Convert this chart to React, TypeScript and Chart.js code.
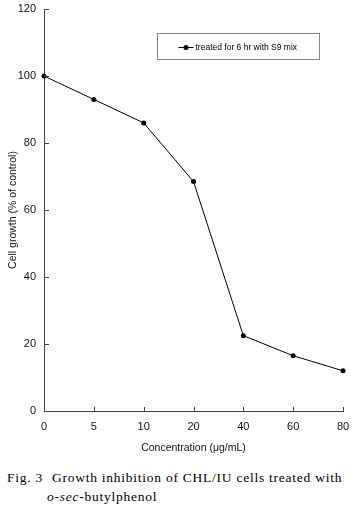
import React, { useEffect, useRef } from "react";
import { Chart, registerables } from "chart.js";

Chart.register(...registerables);

const concentrations = ["0", "5", "10", "20", "40", "60", "80"];
const cellGrowth = [100, 93, 86, 68.5, 22.5, 16.5, 12];
const seriesLabel = "treated for 6 hr with S9 mix";
const yTitle = "Cell growth (% of control)";
const xTitle = "Concentration (\u03bcg/mL)";

const SANS = "'Liberation Sans', Arial, sans-serif";

const inwardTicks = {
  id: "inwardTicks",
  afterDraw(chart: any) {
    const ctx = chart.ctx;
    const xs = chart.scales.x;
    const ys = chart.scales.y;
    const { left, bottom } = chart.chartArea;
    ctx.save();
    ctx.strokeStyle = "#444";
    ctx.lineWidth = 1;
    ctx.beginPath();
    xs.ticks.forEach((_: any, i: number) => {
      if (i === 0) return;
      const px = Math.round(xs.getPixelForTick(i)) + 0.5;
      ctx.moveTo(px, bottom);
      ctx.lineTo(px, bottom - 4);
    });
    ys.ticks.forEach((_: any, i: number) => {
      if (i === 0) return;
      const py = Math.round(ys.getPixelForTick(i)) + 0.5;
      ctx.moveTo(left, py);
      ctx.lineTo(left + 5, py);
    });
    ctx.stroke();
    ctx.restore();
  },
};

const boxLegend = {
  id: "boxLegend",
  afterDraw(chart: any) {
    const ctx = chart.ctx;
    const { right, top } = chart.chartArea;
    const w = 162;
    const h = 26;
    const x0 = Math.round(right - 24 - w) + 0.5;
    const y0 = Math.round(top + 24) + 0.5;
    ctx.save();
    ctx.strokeStyle = "#888";
    ctx.lineWidth = 1;
    ctx.fillStyle = "#fff";
    ctx.fillRect(x0, y0, w, h);
    ctx.strokeRect(x0, y0, w, h);
    const cy = Math.round(y0 + h / 2) + 0.5;
    ctx.strokeStyle = "#000";
    ctx.beginPath();
    ctx.moveTo(x0 + 21, cy);
    ctx.lineTo(x0 + 36, cy);
    ctx.stroke();
    ctx.fillStyle = "#000";
    ctx.beginPath();
    ctx.arc(x0 + 28.5, cy, 2.5, 0, Math.PI * 2);
    ctx.fill();
    ctx.font = `8.5px ${SANS}`;
    ctx.textBaseline = "middle";
    ctx.textAlign = "left";
    ctx.fillStyle = "#000";
    ctx.fillText(chart.data.datasets[0].label, x0 + 38, cy);
    ctx.restore();
  },
};

export default function App() {
  const ref = useRef<HTMLCanvasElement | null>(null);

  useEffect(() => {
    document.body.style.margin = "0";
    const canvas = ref.current;
    if (!canvas) return;
    const H = 458;
    const chart = new Chart(canvas, {
      type: "line",
      data: {
        labels: concentrations,
        datasets: [
          {
            label: seriesLabel,
            data: cellGrowth,
            borderColor: "#000",
            borderWidth: 1,
            pointRadius: 2.5,
            pointBackgroundColor: "#000",
            pointBorderColor: "#000",
            pointBorderWidth: 0,
            tension: 0,
            fill: false,
          },
        ],
      },
      options: {
        animation: false,
        responsive: false,
        maintainAspectRatio: false,
        events: [],
        layout: { padding: { top: 9, right: 9, left: 0, bottom: 4 } },
        plugins: {
          legend: { display: false },
          tooltip: { enabled: false },
          title: { display: false },
        },
        scales: {
          x: {
            type: "category",
            offset: false,
            grid: { display: false, drawTicks: false },
            border: { display: true, color: "#444", width: 1 },
            ticks: {
              font: { family: SANS, size: 11 },
              color: "#111",
              padding: 9,
              maxRotation: 0,
              autoSkip: false,
            },
            title: {
              display: true,
              text: xTitle,
              font: { family: SANS, size: 10.5 },
              color: "#111",
              padding: 0,
            },
            afterFit: (s: any) => {
              s.height = H - 4 - 411;
              s.paddingLeft = 0;
              s.paddingRight = 0;
            },
          },
          y: {
            min: 0,
            max: 120,
            grid: { display: false, drawTicks: false },
            border: { display: true, color: "#444", width: 1 },
            ticks: {
              stepSize: 20,
              font: { family: SANS, size: 11 },
              color: "#111",
              padding: 8,
            },
            title: {
              display: true,
              text: yTitle,
              font: { family: SANS, size: 10.5 },
              color: "#111",
              padding: { top: 7, bottom: 0 },
            },
            afterFit: (s: any) => {
              s.width = 44;
              s.paddingTop = 0;
              s.paddingBottom = 0;
            },
          },
        },
      },
      plugins: [inwardTicks, boxLegend],
    } as any);
    return () => chart.destroy();
  }, []);

  return (
    <div style={{ position: "relative", width: 352, height: 506, background: "#fff", overflow: "hidden" }}>
      <canvas ref={ref} width={352} height={458} style={{ display: "block", width: 352, height: 458 }} />
      <div
        style={{
          position: "absolute",
          top: 468,
          left: 7,
          width: 345,
          fontFamily: "'Liberation Serif', 'DejaVu Serif', serif",
          fontSize: 13.5,
          lineHeight: "19px",
          letterSpacing: "0.75px",
          color: "#000",
          whiteSpace: "nowrap",
        }}
      >
        <div>
          <span style={{ display: "inline-block", width: 45 }}>Fig. 3</span>
          Growth inhibition of CHL/IU cells treated with
        </div>
        <div style={{ paddingLeft: 40 }}>
          <i>o-sec</i>-butylphenol
        </div>
      </div>
    </div>
  );
}
